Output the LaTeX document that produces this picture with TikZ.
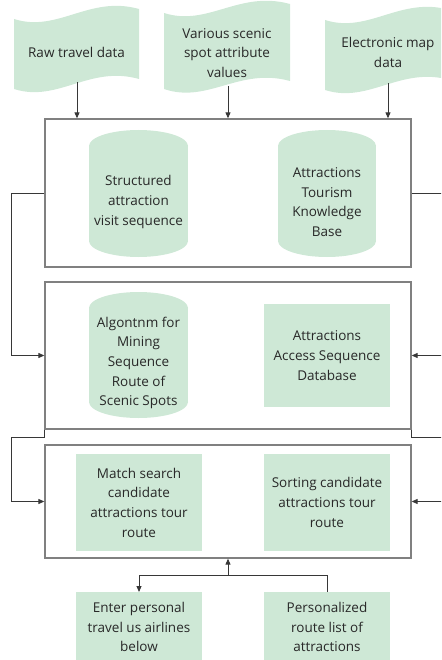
\documentclass[tikz,border=0pt]{standalone}
\usepackage{fontspec}
\setmainfont{Open Sans}
\usetikzlibrary{arrows.meta}
\definecolor{gfill}{RGB}{206,232,214}
\definecolor{frameg}{RGB}{128,128,128}
\definecolor{lineg}{RGB}{55,55,55}
\definecolor{txtc}{RGB}{40,40,40}
\newcommand\mycyl[4]{% cx, top, bottom, rx
  \fill[gfill] (#1-#4,#2+15) rectangle (#1+#4,#3-15);
  \fill[gfill] (#1,#2+16) ellipse [x radius=#4pt, y radius=16pt];
  \fill[gfill] (#1,#3-16) ellipse [x radius=#4pt, y radius=16pt];}
\begin{document}
\begin{tikzpicture}[x=1pt,y=-1pt,
  txt/.style={font=\fontsize{13.5}{19.7}\selectfont, text=txtc, align=center, inner sep=0pt},
  framebox/.style={draw=frameg, line width=1.3pt, fill=none, minimum width=366pt, inner sep=0pt},
  greenbox/.style={fill=gfill, draw=none, minimum width=126pt, inner sep=0pt, font=\fontsize{13.5}{19.7}\selectfont, text=txtc, align=center},
  conn/.style={draw=lineg, line width=0.9pt},
  arr/.style={conn, -{Triangle[length=6pt,width=5pt]}}]
\useasboundingbox (0,0) rectangle (441,660);
\clip (0,0) rectangle (441,660);
% tapes
\fill[gfill] (14,19) .. controls (58,33) and (89,-5) .. (139,9)
  -- (139,79) .. controls (89,65) and (58,103) .. (14,89) -- cycle;
\fill[gfill] (164,13) .. controls (208,27) and (239,-10) .. (290,4)
  -- (290,81) .. controls (239,67) and (208,104) .. (164,89) -- cycle;
\fill[gfill] (325,20) .. controls (369,34) and (400,-4) .. (450,10)
  -- (450,80) .. controls (400,66) and (369,104) .. (325,90) -- cycle;
\node[txt] (s1) at (76.5,52) {Raw travel data};
\node[txt] (s2) at (227,53) {Various scenic\\spot attribute\\values};
\node[txt] (s3) at (388,52.5) {Electronic map\\data};
\coordinate (s1b) at (77,82);
\coordinate (s2b) at (228,86);
\coordinate (s3b) at (388,83);
% frames
\node[framebox, minimum height=148pt] (box1) at (228,193) {};
\node[framebox, minimum height=147pt] (box2) at (228,355.5) {};
\node[framebox, minimum height=113pt] (box3) at (228,501.5) {};
% cylinders
\mycyl{138.5}{130}{257}{49.5}
\mycyl{327}{130}{257}{49}
\mycyl{138.5}{292}{418}{49.5}
\node[txt] (cA) at (138.5,202) {Structured\\attraction\\visit sequence};
\node[txt] (cB) at (327,202) {Attractions\\Tourism\\Knowledge\\Base};
\node[txt] (cC) at (138.5,363) {Algontnm for\\Mining\\Sequence\\Route of\\Scenic Spots};
% rectangles
\node[greenbox, minimum height=103pt] (D) at (327,355.5) {Attractions\\Access Sequence\\Database};
\node[greenbox, minimum height=97pt] (E) at (139,502.5) {Match search\\candidate\\attractions tour\\route};
\node[greenbox, minimum height=97pt] (F) at (327,502.5) {Sorting candidate\\attractions tour\\route};
\node[greenbox, minimum height=70pt, anchor=north] (G) at (139,592) {Enter personal\\travel us airlines\\below};
\node[greenbox, minimum height=70pt, anchor=north] (H) at (327,592) {Personalized\\route list of\\attractions};
% top arrows
\draw[arr] (s1b) -- (s1b |- box1.north);
\draw[arr] (s2b) -- (s2b |- box1.north);
\draw[arr] (s3b) -- (s3b |- box1.north);
% side loops
\draw[arr] (box1.west) -- ++(-33,0) |- (box2.west);
\draw[arr] (box2.south west) -- ++(0,8) -- ++(-33,0) |- (box3.west);
\draw[arr] (box1.east) -- ++(33,0) |- (box2.east);
\draw[arr] (box2.south east) -- ++(0,8) -- ++(33,0) |- (box3.east);
% bottom
\coordinate (j) at (228,575);
\draw[arr] (H.north) -- (H.north |- j) -- (G.north |- j) -- (G.north);
\draw[arr] (j) -- (box3.south);
\end{tikzpicture}
\end{document}
